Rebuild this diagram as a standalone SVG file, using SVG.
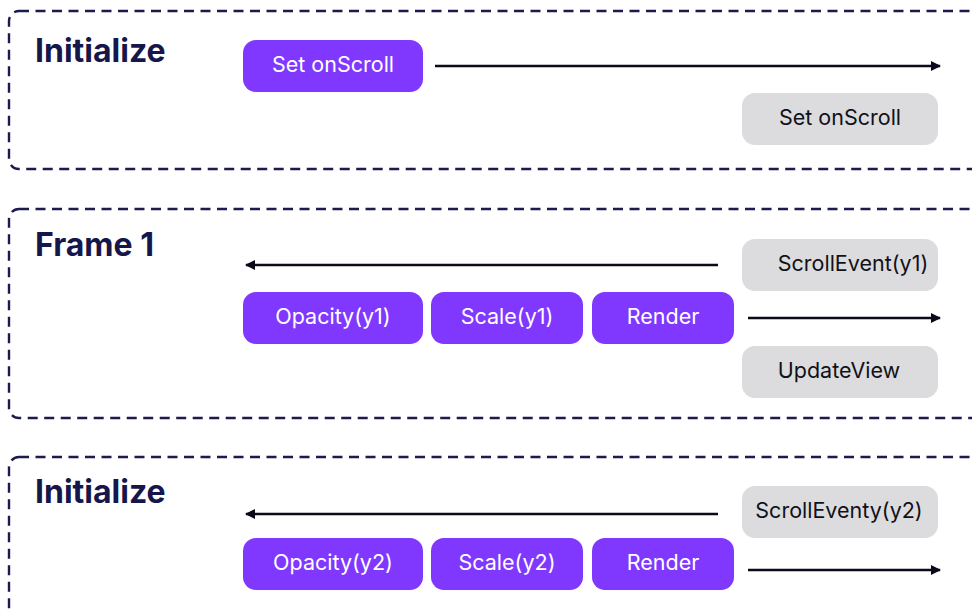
<svg xmlns="http://www.w3.org/2000/svg" width="972" height="614" viewBox="0 0 972 614">
  <style>
    .frame { fill: none; stroke: #1b1b4d; stroke-width: 2.4; stroke-dasharray: 10 6.5; }
    .title { font-family: Inter, "Liberation Sans", sans-serif; font-weight: 700; font-size: 32px; fill: #16164a; }
    .btn { fill: #8038ff; }
    .btn-t { font-family: Inter, "Liberation Sans", sans-serif; font-size: 21.5px; fill: #ffffff; text-anchor: middle; }
    .sys { fill: #dcdcde; }
    .sys-t { font-family: Inter, "Liberation Sans", sans-serif; font-size: 21.5px; fill: #111118; text-anchor: middle; }
    .flow { stroke: #0a0a18; stroke-width: 2.5; fill: none; marker-end: url(#head); }
  </style>
  <defs>
    <marker id="head" viewBox="0 0 10 10" refX="9" refY="5" markerWidth="4.4" markerHeight="4" orient="auto" markerUnits="strokeWidth">
      <path d="M0,0 L10,5 L0,10 Z" fill="#0a0a18"/>
    </marker>
  </defs>

  <rect width="972" height="614" fill="#ffffff"/>

  <!-- phase frames -->
  <g id="frames">
    <rect class="frame" x="9" y="11" width="1000" height="158" rx="10"/>
    <rect class="frame" x="9" y="209" width="1000" height="209" rx="10"/>
    <rect class="frame" x="9" y="457" width="1000" height="300" rx="10"/>
  </g>

  <text class="title" x="35" y="62">Initialize</text>
  <text class="title" x="35" y="256">Frame 1</text>
  <text class="title" x="35" y="503">Initialize</text>

  <!-- connectors -->
  <g id="connectors">
    <line class="flow" x1="435" y1="66" x2="940" y2="66"/>
    <line class="flow" x1="718" y1="265" x2="246" y2="265"/>
    <line class="flow" x1="748" y1="318" x2="940" y2="318"/>
    <line class="flow" x1="718" y1="514" x2="246" y2="514"/>
    <line class="flow" x1="748" y1="570" x2="940" y2="570"/>
  </g>

  <!-- Initialize -->
  <g id="set-onscroll-app">
    <rect class="btn" x="243" y="40" width="180" height="52" rx="13"/>
    <text class="btn-t" x="333" y="72">Set onScroll</text>
  </g>
  <g id="set-onscroll-sys">
    <rect class="sys" x="742" y="93" width="196" height="52" rx="13"/>
    <text class="sys-t" x="840" y="125">Set onScroll</text>
  </g>

  <!-- Frame 1 -->
  <g id="scroll-event-y1">
    <rect class="sys" x="742" y="239" width="196" height="52" rx="13"/>
    <text class="sys-t" x="853" y="271">ScrollEvent(y1)</text>
  </g>
  <g id="opacity-y1">
    <rect class="btn" x="243" y="292" width="180" height="52" rx="13"/>
    <text class="btn-t" x="333" y="324">Opacity(y1)</text>
  </g>
  <g id="scale-y1">
    <rect class="btn" x="431" y="292" width="152" height="52" rx="13"/>
    <text class="btn-t" x="507" y="324">Scale(y1)</text>
  </g>
  <g id="render-1">
    <rect class="btn" x="592" y="292" width="142" height="52" rx="13"/>
    <text class="btn-t" x="663" y="324">Render</text>
  </g>
  <g id="update-view">
    <rect class="sys" x="742" y="346" width="196" height="52" rx="13"/>
    <text class="sys-t" x="839" y="378">UpdateView</text>
  </g>

  <!-- next frame -->
  <g id="scroll-event-y2">
    <rect class="sys" x="742" y="486" width="196" height="52" rx="13"/>
    <text class="sys-t" x="839" y="518">ScrollEventy(y2)</text>
  </g>
  <g id="opacity-y2">
    <rect class="btn" x="243" y="538" width="180" height="52" rx="13"/>
    <text class="btn-t" x="333" y="570">Opacity(y2)</text>
  </g>
  <g id="scale-y2">
    <rect class="btn" x="431" y="538" width="152" height="52" rx="13"/>
    <text class="btn-t" x="507" y="570">Scale(y2)</text>
  </g>
  <g id="render-2">
    <rect class="btn" x="592" y="538" width="142" height="52" rx="13"/>
    <text class="btn-t" x="663" y="570">Render</text>
  </g>
</svg>
